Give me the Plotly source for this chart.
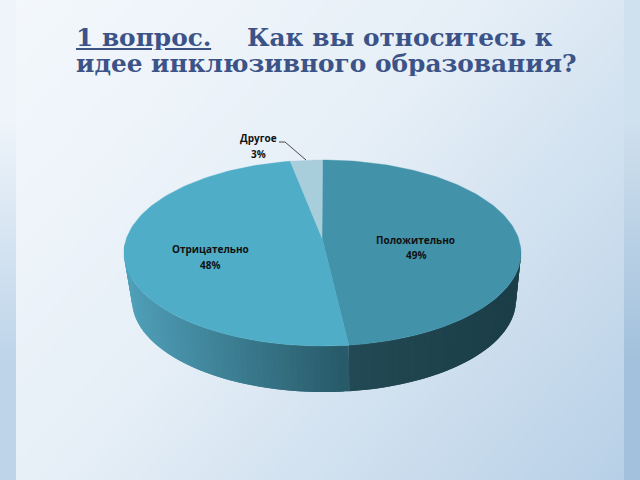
import numpy as np
import plotly.graph_objects as go

# данные диаграммы
categories = ["Положительно", "Отрицательно", "Другое"]
values = [49, 48, 3]
top_colors = ["#4293aa", "#4fadc8", "#a8cddb"]

title_line1_a = "1 вопрос."
title_line1_b = "Как вы относитесь к"
title_line2 = "идее инклюзивного образования?"

# геометрия псевдо-3D круга, в пикселях слайда
CX, CY, RX, RY = 322.5, 253, 198.5, 93
HUB_X, HUB_Y = 322, 238
BCX, BCY, BRX, BRY = 324, 300, 192, 92


def warp(deg):
    # перспектива: ближняя часть круга растянута
    r = np.radians(deg)
    return deg - 3.5 * np.sin(r / 2) ** 2 - 8 * np.sin(r)


def top_rim(deg):
    r = np.radians(warp(deg))
    return CX + RX * np.sin(r), CY - RY * np.cos(r)


def bottom_rim(deg):
    r = np.radians(warp(deg))
    return BCX + BRX * np.sin(r), BCY - BRY * np.cos(r)


def mix(c1, c2, k):
    k = min(max(k, 0), 1)
    return "rgb(%d,%d,%d)" % tuple(a + (b - a) * k for a, b in zip(c1, c2))


fig = go.Figure()

# фон слайда
gx = np.linspace(16, 624, 62)
gy = np.linspace(0, 480, 49)
gz = [[(x / 640) * 0.6 + (y / 480) * 0.4 for x in gx] for y in gy]
fig.add_trace(go.Heatmap(
    x=gx, y=gy, z=gz, zmin=0, zmax=1, zsmooth="best", showscale=False, hoverinfo="skip",
    colorscale=[[0, "#f4f8fc"], [0.45, "#e6eff7"], [1, "#b6cfe6"]],
))
# полосы по краям слайда (у heatmap клетка шире точек на половину шага)
for sx, c_top, c_bottom in [
    ([4, 12], "#eef4fa", "#bdd4e9"),
    ([628, 636], "#cfe0ee", "#a3c1dc"),
]:
    fig.add_trace(go.Heatmap(
        x=sx, y=[120, 360], z=[[0, 0], [1, 1]], zmin=0, zmax=1, zsmooth="best",
        showscale=False, hoverinfo="skip", colorscale=[[0, c_top], [1, c_bottom]],
    ))

# боковая стенка: узкие полоски с градиентом, каждая заходит под следующую
cum = np.cumsum(values) / sum(values) * 360
boundary = cum[0]
angles = np.r_[np.arange(97, boundary, 1.5), boundary, np.arange(boundary + 1.5, 268, 1.5)]
for a0 in angles:
    a1 = a0 + 3
    if a0 < boundary:
        a1 = min(a1, boundary)
    tx0, ty0 = top_rim(a0)
    tx1, ty1 = top_rim(a1)
    bx0, by0 = bottom_rim(a0)
    bx1, by1 = bottom_rim(a1)
    if a0 < boundary:
        k = (tx0 - 347) / 170
        color = mix((35, 74, 85), (27, 62, 72), k)
    else:
        k = (347 - tx0) / 220
        color = mix((40, 90, 105), (80, 160, 185), k)
    fig.add_trace(go.Scatter(
        x=[tx0, tx1, bx1, bx0, tx0], y=[ty0, ty1, by1, by0, ty0], mode="lines",
        fill="toself", fillcolor=color, line=dict(width=0), hoverinfo="skip",
    ))

# верхняя грань
start = 0
for val, color in zip(values, top_colors):
    end = start + val / sum(values) * 360
    a = np.linspace(start, end, 120)
    rx, ry = top_rim(a)
    fig.add_trace(go.Scatter(
        x=np.r_[HUB_X, rx, HUB_X], y=np.r_[HUB_Y, ry, HUB_Y], mode="lines",
        fill="toself", fillcolor=color, line=dict(color=color, width=0.4), hoverinfo="skip",
    ))
    start = end

# линия-выноска
fig.add_trace(go.Scatter(
    x=[279, 285, 306], y=[142, 142, 160], mode="lines",
    line=dict(color="#222222", width=0.8), hoverinfo="skip",
))

label_x = [415.5, 210, 258.5]
label_name_y = [240, 249, 138]
label_pct_y = [255, 265, 154]
annotations = []
for name, val, lx, ny, py in zip(categories, values, label_x, label_name_y, label_pct_y):
    for txt, ly in [(name, ny), (f"{val}%", py)]:
        annotations.append(dict(
            x=lx, y=ly, xref="x", yref="y", showarrow=False,
            text=f"<b>{txt}</b>",
            font=dict(family="Open Sans", size=10, color="#111111"),
        ))

title_font = dict(family="DejaVu Serif", size=24.8, color="#3b5387")
for txt, tx, ty in [
    (f"<b><u>{title_line1_a}</u></b>", 74, 37),
    (f"<b>{title_line1_b}</b>", 245, 37),
    (f"<b>{title_line2}</b>", 74, 63),
]:
    annotations.append(dict(
        x=tx, y=ty, xref="x", yref="y", xanchor="left", showarrow=False,
        text=txt, font=title_font, height=25,
    ))

fig.update_layout(
    width=640, height=480, margin=dict(l=0, r=0, t=0, b=0),
    showlegend=False, annotations=annotations,
    xaxis=dict(range=[0, 640], visible=False, fixedrange=True),
    yaxis=dict(range=[480, 0], visible=False, fixedrange=True),
    paper_bgcolor="#e6eff7", plot_bgcolor="#e6eff7",
)

fig.write_html("out.html", config=dict(displayModeBar=False),
               post_script="document.body.style.margin='0';")
